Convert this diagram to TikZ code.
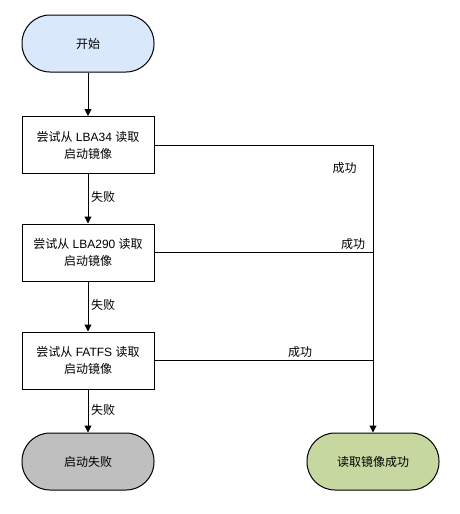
\documentclass[tikz,border=0pt]{standalone}
\usepackage{fontspec}
\setmainfont{Liberation Sans}
\newfontfamily\cjk{Noto Sans CJK SC}
\usetikzlibrary{arrows.meta}
\definecolor{startblue}{HTML}{DAE8FC}
\definecolor{failgray}{HTML}{BFBFBF}
\definecolor{okgreen}{HTML}{C6D8A0}
\begin{document}
\begin{tikzpicture}[x=1pt,y=-1pt,
  every node/.style={font=\fontsize{12}{17}\selectfont},
  term/.style={draw, line width=1pt, minimum width=132pt, minimum height=57pt, inner sep=0pt, rounded corners=28pt},
  procbox/.style={draw, line width=1pt, fill=white, minimum width=132pt, minimum height=57pt, inner sep=0pt, align=center},
  conn/.style={line width=1pt, -{Triangle[length=7pt,width=7pt]}},
  plain/.style={line width=1pt},
  lbl/.style={inner sep=0pt}
]
\useasboundingbox (0,0) rectangle (459,514);
\node[term, fill=startblue] (start) at (88,43.5) {\cjk 开始};
\node[procbox] (b1) at (88,145) {{\cjk 尝试从} LBA34 {\cjk 读取}\\{\cjk 启动镜像}};
\node[procbox] (b2) at (88,252.5) {{\cjk 尝试从} LBA290 {\cjk 读取}\\{\cjk 启动镜像}};
\node[procbox] (b3) at (88,360.5) {{\cjk 尝试从} FATFS {\cjk 读取}\\{\cjk 启动镜像}};
\node[term, fill=failgray] (fail) at (88,461.5) {\cjk 启动失败};
\node[term, fill=okgreen] (ok) at (373,461.5) {\cjk 读取镜像成功};
\coordinate (j2) at (373,252.5);
\coordinate (j3) at (373,360.5);
\draw[conn] (start) -- (b1);
\draw[conn] (b1) -- (b2);
\draw[conn] (b2) -- (b3);
\draw[conn] (b3) -- (fail);
\draw[conn] (b1.east) -| (ok.north);
\draw[plain] (b2.east) -- (j2);
\draw[plain] (b3.east) -- (j3);
\node[lbl, anchor=west] (f1) at (91,197) {\cjk 失败};
\node[lbl, anchor=west] (f2) at (91,305) {\cjk 失败};
\node[lbl, anchor=west] (f3) at (91,410) {\cjk 失败};
\node[lbl] (s1) at (344.5,168) {\cjk 成功};
\node[lbl] (s2) at (353,243.5) {\cjk 成功};
\node[lbl] (s3) at (300,352) {\cjk 成功};
\end{tikzpicture}
\end{document}
